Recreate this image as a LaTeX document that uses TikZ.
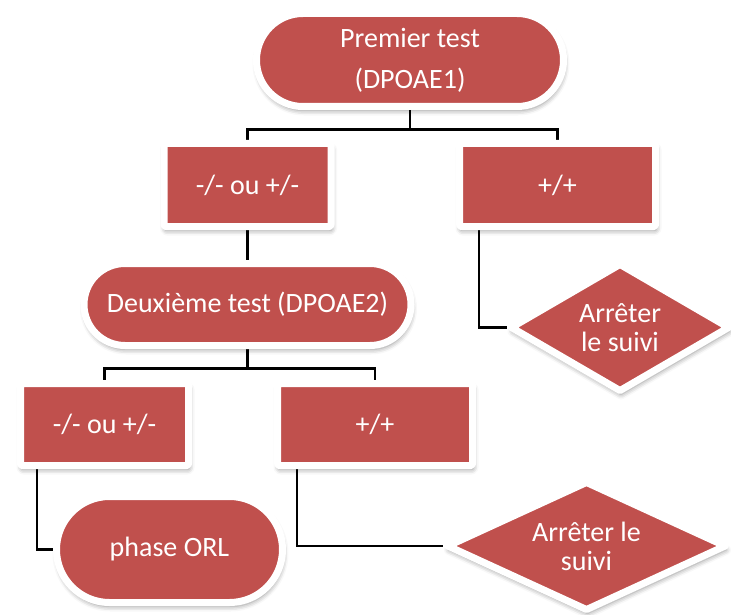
\documentclass[tikz,border=0pt]{standalone}
\usepackage{fontspec}
\setmainfont{Carlito}
\usetikzlibrary{shapes.geometric,shapes.misc,shadows.blur,backgrounds}
\definecolor{boxred}{HTML}{C0504D}
\begin{document}
\begin{tikzpicture}[x=1pt,y=-1pt,
  shapebase/.style={fill=boxred, draw=white, line width=7pt, line join=round,
    text=white, font=\fontsize{28}{34}\selectfont, inner sep=0pt, align=center,
    blur shadow={shadow xshift=1pt, shadow yshift=-4pt, shadow blur radius=5pt, shadow opacity=45}},
  boxnode/.style={shapebase, rectangle, rounded corners=2pt},
  stadium/.style={shapebase, rounded rectangle},
  dia/.style={shapebase, diamond},
  dialabel/.style={text=white, align=center, font=\fontsize{28}{29}\selectfont, inner sep=0pt},
  conn/.style={black, line width=2.2pt}]
\useasboundingbox (0,0) rectangle (731,615);

\node[stadium, minimum width=307pt, minimum height=93pt, font=\fontsize{28}{41}\selectfont]
  (top) at (410,60) {Premier test\\(DPOAE1)};
\node[boxnode, minimum width=167pt, minimum height=83pt] (b1) at (247.5,185) {-/- ou +/-};
\node[boxnode, minimum width=196pt, minimum height=83pt] (b2) at (557.5,185) {+/+};
\node[stadium, minimum width=327pt, minimum height=82pt] (s2) at (247.5,304.5) {Deuxième test (DPOAE2)};
\node[dia, minimum width=220pt, minimum height=129pt,
  label={[dialabel]center:Arrêter\\le suivi}] (d1) at (620,327.5) {};
\node[boxnode, minimum width=168pt, minimum height=82pt] (b3) at (104.5,424.5) {-/- ou +/-};
\node[boxnode, minimum width=195pt, minimum height=82pt] (b4) at (375,424.5) {+/+};
\node[stadium, minimum width=226pt, minimum height=106pt] (orl) at (169.5,549.5) {phase ORL};
\node[dia, minimum width=280pt, minimum height=130pt,
  label={[dialabel]center:Arrêter le\\suivi}] (d2) at (586.5,546) {};

\begin{scope}[on background layer]
\draw[conn] (top.south) -- ++(0,19.5) -| (b1.north);
\draw[conn] (top.south) -- ++(0,19.5) -| (b2.north);
\draw[conn] (b1.south) -- (s2.north);
\draw[conn] ([xshift=-78.5pt]b2.south) |- (d1.west);
\draw[conn] (s2.south) -- ++(0,19.5) -| (b3.north);
\draw[conn] (s2.south) -- ++(0,19.5) -| (b4.north);
\draw[conn] ([xshift=-67.5pt]b3.south) |- (orl.west);
\draw[conn] ([xshift=-78pt]b4.south) |- (d2.west);
\end{scope}
\end{tikzpicture}
\end{document}
